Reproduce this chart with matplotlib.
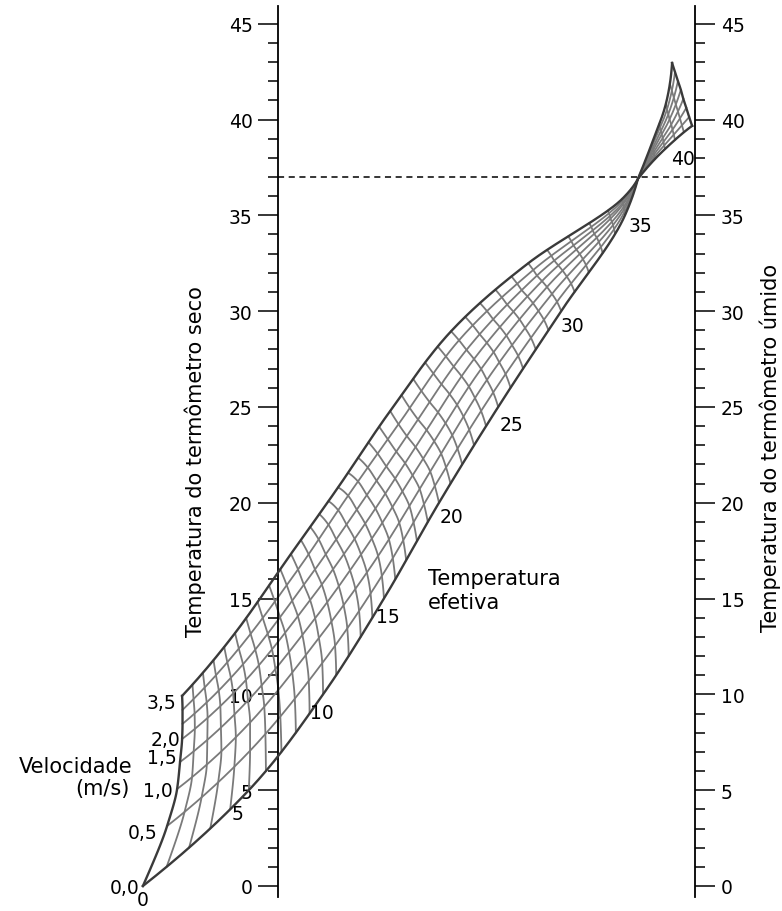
import numpy as np
import matplotlib
matplotlib.use("Agg")
import matplotlib.pyplot as plt

plt.rcParams['font.family'] = ['DejaVu Sans']

# ---------------- data ----------------
VELOCITIES = [0.0, 0.5, 1.0, 1.5, 2.0, 2.5, 3.0, 3.5]
VEL_LABELS = ["0,0", "0,5", "1,0", "1,5", "2,0", "3,5"]
VEL_LABEL_T = [-0.331, -0.288, -0.252, -0.242, -0.235, -0.245]
VEL_LABEL_H = [-0.10, 2.77, 4.96, 6.73, 7.67, 9.60]

# effective-temperature values at which node positions were read
ET_KEYS = [0, 5, 10, 15, 20, 25, 30, 35, 37, 38, 39, 40]
# node position across the nomogram (0 = dry-bulb scale, 1 = wet-bulb scale)
NODE_T = [
    [-0.324, -0.266, -0.242, -0.235, -0.230, -0.229, -0.229, -0.230],
    [-0.070, -0.067, -0.067, -0.072, -0.077, -0.084, -0.094, -0.103],
    [0.108, 0.106, 0.098, 0.089, 0.077, 0.062, 0.048, 0.031],
    [0.254, 0.249, 0.240, 0.225, 0.209, 0.189, 0.168, 0.144],
    [0.386, 0.376, 0.365, 0.348, 0.330, 0.309, 0.289, 0.269],
    [0.528, 0.516, 0.501, 0.487, 0.470, 0.452, 0.434, 0.415],
    [0.679, 0.669, 0.657, 0.645, 0.633, 0.621, 0.612, 0.600],
    [0.832, 0.831, 0.830, 0.829, 0.827, 0.827, 0.826, 0.825],
    [0.863, 0.863, 0.863, 0.863, 0.863, 0.863, 0.863, 0.863],
    [0.904, 0.903, 0.902, 0.901, 0.900, 0.899, 0.898, 0.897],
    [0.952, 0.949, 0.946, 0.943, 0.939, 0.936, 0.933, 0.930],
    [0.993, 0.986, 0.979, 0.972, 0.966, 0.959, 0.952, 0.945],
]
# node height on the temperature scales (degC)
NODE_H = [
    [0.00, 3.13, 5.06, 6.47, 7.67, 8.46, 9.19, 9.92],
    [5.00, 7.06, 8.53, 9.68, 10.75, 11.57, 12.39, 13.20],
    [10.00, 11.63, 12.94, 13.97, 14.92, 15.72, 16.52, 17.33],
    [15.00, 16.18, 17.22, 18.13, 18.91, 19.64, 20.37, 20.80],
    [20.00, 20.88, 21.63, 22.30, 22.90, 23.48, 24.10, 24.79],
    [25.00, 25.76, 26.41, 26.98, 27.50, 27.98, 28.48, 28.95],
    [30.00, 30.49, 30.90, 31.26, 31.57, 31.86, 32.15, 32.50],
    [35.00, 35.18, 35.33, 35.45, 35.56, 35.66, 35.76, 35.85],
    [36.90, 36.90, 36.90, 36.90, 36.90, 36.90, 36.90, 36.90],
    [37.94, 38.06, 38.18, 38.30, 38.42, 38.54, 38.66, 38.78],
    [38.94, 39.21, 39.47, 39.74, 40.01, 40.28, 40.54, 40.81],
    [39.67, 40.13, 40.61, 41.08, 41.55, 42.01, 42.48, 42.95],
]
ET_LABELS = ["0", "5", "10", "15", "20", "25", "30", "35", "40"]
ET_LABEL_T = [-0.324, -0.096, 0.106, 0.264, 0.417, 0.561, 0.707, 0.868, 0.971]
ET_LABEL_H = [-0.72, 3.76, 9.08, 14.09, 19.26, 24.11, 29.23, 34.45, 37.99]

ET_LINES_LOW = list(range(1, 37))
ET_LINES_HIGH = [37.5, 38, 38.5, 39, 39.5]

SCALE_MAJOR = list(range(0, 46, 5))
SCALE_MINOR = list(range(0, 46))
REFERENCE_T = 37  # dashed line


# ---------------- helpers ----------------
def _end_slope(h0, h1, d0, d1):
    m = ((2 * h0 + h1) * d0 - h0 * d1) / (h0 + h1)
    if np.sign(m) != np.sign(d0):
        m = 0.0
    elif np.sign(d0) != np.sign(d1) and abs(m) > abs(3 * d0):
        m = 3 * d0
    return m


def hermite(xk, yk, xq, monotone=True):
    xk = np.asarray(xk, float)
    yk = np.asarray(yk, float)
    xq = np.asarray(xq, float)
    h = np.diff(xk)
    d = np.diff(yk) / h
    n = len(xk)
    m = np.zeros(n)
    if n == 2:
        m[:] = d[0]
    else:
        for k in range(1, n - 1):
            if monotone:
                if d[k - 1] * d[k] > 0:
                    w1 = 2 * h[k] + h[k - 1]
                    w2 = h[k] + 2 * h[k - 1]
                    m[k] = (w1 + w2) / (w1 / d[k - 1] + w2 / d[k])
            else:
                m[k] = (h[k] * d[k - 1] + h[k - 1] * d[k]) / (h[k - 1] + h[k])
        m[0] = _end_slope(h[0], h[1], d[0], d[1])
        m[-1] = _end_slope(h[-1], h[-2], d[-1], d[-2])
    i = np.clip(np.searchsorted(xk, xq) - 1, 0, n - 2)
    hh = h[i]
    s = (xq - xk[i]) / hh
    h00 = 2 * s**3 - 3 * s**2 + 1
    h10 = s**3 - 2 * s**2 + s
    h01 = -2 * s**3 + 3 * s**2
    h11 = s**3 - s**2
    return h00 * yk[i] + h10 * hh * m[i] + h01 * yk[i + 1] + h11 * hh * m[i + 1]


keys = np.array(ET_KEYS, float)
NT = np.array(NODE_T)
NH = np.array(NODE_H)
low = keys <= 37
high = keys >= 37


def vel_curve(j, et):
    et = np.atleast_1d(np.asarray(et, float))
    t = np.empty_like(et)
    hgt = np.empty_like(et)
    a = et <= 37
    t[a] = hermite(keys[low], NT[low, j], et[a], monotone=False)
    hgt[a] = hermite(keys[low], NH[low, j], et[a], monotone=False)
    b = ~a
    if b.any():
        t[b] = hermite(keys[high], NT[high, j], et[b], monotone=False)
        hgt[b] = hermite(keys[high], NH[high, j], et[b], monotone=False)
    return t, hgt


# ---------------- figure ----------------
fig = plt.figure(figsize=(7.82, 9.12), dpi=100)
ax = fig.add_axes([0, 0, 1, 1])
XMIN, XMAX = -0.6667, 1.2086
ax.set_xlim(XMIN, XMAX)
ax.set_ylim(-1.305, 46.29)

MESH = '#7a7a7a'
EDGE = '#3a3a3a'
nv = len(VELOCITIES)

# effective temperature lines
s_idx = np.arange(nv)
s_dense = np.linspace(0, nv - 1, 80)
for et in ET_LINES_LOW + ET_LINES_HIGH:
    pts = [vel_curve(j, et) for j in range(nv)]
    tt = np.array([p[0][0] for p in pts])
    hh = np.array([p[1][0] for p in pts])
    ax.plot(hermite(s_idx, tt, s_dense), hermite(s_idx, hh, s_dense),
            color=MESH, lw=1.3, solid_capstyle='round', zorder=2)

# velocity curves
et_a = np.linspace(0, 37, 400)
et_b = np.linspace(37, 40, 80)
for j in range(nv):
    ta, ha = vel_curve(j, et_a)
    tb, hb = vel_curve(j, et_b)
    edge = j in (0, nv - 1)
    ax.plot(np.r_[ta, tb], np.r_[ha, hb], color=EDGE if edge else MESH,
            lw=1.7 if edge else 1.3, zorder=3 if edge else 2)

# boundary ET lines (0 and 40)
for row in (0, len(ET_KEYS) - 1):
    ax.plot(hermite(s_idx, NT[row], s_dense), hermite(s_idx, NH[row], s_dense),
            color=EDGE, lw=1.7, zorder=3)

# dashed reference line
ax.plot([0, 1], [REFERENCE_T, REFERENCE_T], color='black', lw=1.1,
        dashes=(4, 3), zorder=1)

# scales
for sname in ['top', 'right', 'bottom']:
    ax.spines[sname].set_visible(False)
ax.set_xticks([])
ax.spines['left'].set_position(('data', 0))
ax.spines['left'].set_bounds(-0.6, 45.9)
ax.spines['left'].set_linewidth(1.3)
ax.set_yticks(SCALE_MAJOR)
ax.set_yticks(SCALE_MINOR, minor=True)
ax.tick_params(axis='y', which='major', length=14.4, width=1.1,
               direction='out', pad=4, labelsize=13.5)
ax.tick_params(axis='y', which='minor', length=7.2, width=1.1,
               direction='out')

loc = (1 - XMIN) / (XMAX - XMIN)
sec = ax.secondary_yaxis(loc)
sec.set_yticks(SCALE_MAJOR)
sec.set_yticks(SCALE_MINOR, minor=True)
sec.tick_params(axis='y', which='major', length=14.4, width=1.1,
                direction='out', pad=4, labelsize=13.5)
sec.tick_params(axis='y', which='minor', length=7.2, width=1.1,
                direction='out')
sec.spines['right'].set_bounds(-0.6, 45.9)
sec.spines['right'].set_linewidth(1.3)

# labels
for lab, t, hgt in zip(VEL_LABELS, VEL_LABEL_T, VEL_LABEL_H):
    ax.text(t, hgt, lab, ha='right', va='center', fontsize=13.5)
for lab, t, hgt in zip(ET_LABELS, ET_LABEL_T, ET_LABEL_H):
    ax.text(t, hgt, lab, ha='center', va='center', fontsize=13.5)

ax.text(-0.350, 6.26, "Velocidade", ha='right', va='center', fontsize=15)
ax.text(-0.355, 5.11, "(m/s)", ha='right', va='center', fontsize=15)
ax.text(0.360, 16.08, "Temperatura", ha='left', va='center', fontsize=15)
ax.text(0.360, 14.82, "efetiva", ha='left', va='center', fontsize=15)

ax.text(-0.199, 13.05, "Temperatura do termômetro seco", rotation=90,
        ha='center', va='bottom', fontsize=15)
ax.text(1.180, 13.3, "Temperatura do termômetro úmido", rotation=90,
        ha='center', va='bottom', fontsize=15)

fig.savefig("out.png", dpi=100, facecolor='white')
